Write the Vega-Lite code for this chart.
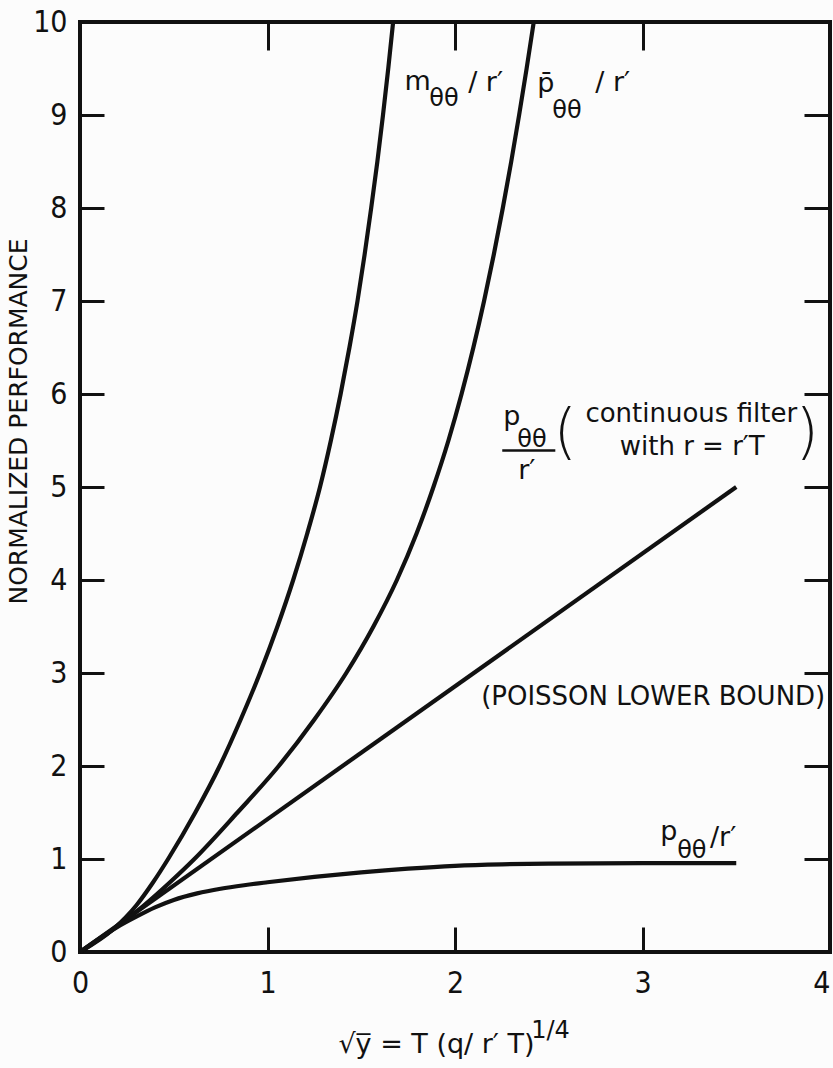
{
  "$schema": "https://vega.github.io/schema/vega-lite/v6.json",
  "width": 750,
  "height": 930,
  "autosize": {"type": "none"},
  "padding": {"left": 80, "top": 22, "right": 3, "bottom": 116},
  "background": "#fcfcfc",
  "config": {
    "view": {"stroke": "#111", "strokeWidth": 4},
    "axis": {"domain": false, "grid": false, "tickColor": "#111", "tickWidth": 3, "labelColor": "#111", "labelFont": "DejaVu Sans Condensed", "labelFontSize": 30, "labelFlush": false, "labelOverlap": false}
  },
  "datasets": {
    "curves": [
      {"series": "m", "x": 0, "y": 0}, {"series": "m", "x": 0.18, "y": 0.25}, {"series": "m", "x": 0.3, "y": 0.5}, {"series": "m", "x": 0.39, "y": 0.75}, {"series": "m", "x": 0.47, "y": 1.0}, {"series": "m", "x": 0.615, "y": 1.5}, {"series": "m", "x": 0.745, "y": 2.0}, {"series": "m", "x": 0.857, "y": 2.5}, {"series": "m", "x": 0.96, "y": 3.0}, {"series": "m", "x": 1.053, "y": 3.5}, {"series": "m", "x": 1.137, "y": 4.0}, {"series": "m", "x": 1.212, "y": 4.5}, {"series": "m", "x": 1.28, "y": 5.0}, {"series": "m", "x": 1.338, "y": 5.5}, {"series": "m", "x": 1.39, "y": 6.0}, {"series": "m", "x": 1.437, "y": 6.5}, {"series": "m", "x": 1.48, "y": 7.0}, {"series": "m", "x": 1.518, "y": 7.5}, {"series": "m", "x": 1.553, "y": 8.0}, {"series": "m", "x": 1.586, "y": 8.5}, {"series": "m", "x": 1.616, "y": 9.0}, {"series": "m", "x": 1.644, "y": 9.5}, {"series": "m", "x": 1.67, "y": 10.0},
      {"series": "pbar", "x": 0, "y": 0}, {"series": "pbar", "x": 0.18, "y": 0.25}, {"series": "pbar", "x": 0.34, "y": 0.5}, {"series": "pbar", "x": 0.48, "y": 0.75}, {"series": "pbar", "x": 0.61, "y": 1.0}, {"series": "pbar", "x": 0.84, "y": 1.5}, {"series": "pbar", "x": 1.06, "y": 2.0}, {"series": "pbar", "x": 1.25, "y": 2.5}, {"series": "pbar", "x": 1.42, "y": 3.0}, {"series": "pbar", "x": 1.565, "y": 3.5}, {"series": "pbar", "x": 1.69, "y": 4.0}, {"series": "pbar", "x": 1.795, "y": 4.5}, {"series": "pbar", "x": 1.885, "y": 5.0}, {"series": "pbar", "x": 1.965, "y": 5.5}, {"series": "pbar", "x": 2.035, "y": 6.0}, {"series": "pbar", "x": 2.098, "y": 6.5}, {"series": "pbar", "x": 2.155, "y": 7.0}, {"series": "pbar", "x": 2.207, "y": 7.5}, {"series": "pbar", "x": 2.255, "y": 8.0}, {"series": "pbar", "x": 2.3, "y": 8.5}, {"series": "pbar", "x": 2.342, "y": 9.0}, {"series": "pbar", "x": 2.382, "y": 9.5}, {"series": "pbar", "x": 2.42, "y": 10.0},
      {"series": "cont", "x": 0, "y": 0}, {"series": "cont", "x": 3.5, "y": 5.0},
      {"series": "p", "x": 0, "y": 0}, {"series": "p", "x": 0.1, "y": 0.14}, {"series": "p", "x": 0.2, "y": 0.27}, {"series": "p", "x": 0.3, "y": 0.38}, {"series": "p", "x": 0.4, "y": 0.48}, {"series": "p", "x": 0.5, "y": 0.56}, {"series": "p", "x": 0.625, "y": 0.63}, {"series": "p", "x": 0.75, "y": 0.68}, {"series": "p", "x": 0.875, "y": 0.718}, {"series": "p", "x": 1.0, "y": 0.75}, {"series": "p", "x": 1.25, "y": 0.808}, {"series": "p", "x": 1.5, "y": 0.857}, {"series": "p", "x": 1.75, "y": 0.897}, {"series": "p", "x": 2.0, "y": 0.927}, {"series": "p", "x": 2.25, "y": 0.943}, {"series": "p", "x": 2.5, "y": 0.951}, {"series": "p", "x": 3.0, "y": 0.955}, {"series": "p", "x": 3.5, "y": 0.955}
    ],
    "mainText": [
      {"x": 1.73, "y": 9.274, "t": "m"},
      {"x": 2.07, "y": 9.263, "t": "/ r′"},
      {"x": 2.439, "y": 9.242, "t": "p̄"},
      {"x": 2.748, "y": 9.263, "t": "/ r′"},
      {"x": 2.257, "y": 5.672, "t": "p"},
      {"x": 2.337, "y": 5.091, "t": "r′"},
      {"x": 3.094, "y": 1.199, "t": "p"},
      {"x": 3.36, "y": 1.145, "t": "/r′"},
      {"x": 1.378, "y": -1.081, "t": "√y̅ = T (q/ r′ T)"}
    ],
    "subText": [
      {"x": 1.863, "y": 9.102, "t": "θθ"},
      {"x": 2.519, "y": 8.973, "t": "θθ"},
      {"x": 2.332, "y": 5.425, "t": "θθ"},
      {"x": 3.185, "y": 1.016, "t": "θθ"},
      {"x": 2.406, "y": -0.93, "t": "1/4"}
    ],
    "centerText": [
      {"x": 3.26, "y": 5.694, "t": "continuous filter"},
      {"x": 3.265, "y": 5.339, "t": "with r = r′T"},
      {"x": 3.057, "y": 2.651, "t": "(POISSON LOWER BOUND)"}
    ],
    "parens": [
      {"x": 2.588, "y": 5.565, "t": "("},
      {"x": 3.878, "y": 5.565, "t": ")"}
    ],
    "bars": [
      {"x": 2.252, "x2": 2.535, "y": 5.392}
    ]
  },
  "layer": [
    {
      "data": {"name": "curves"},
      "mark": {"type": "line", "color": "#111", "strokeWidth": 4.2, "interpolate": "monotone"},
      "encoding": {
        "x": {"field": "x", "type": "quantitative", "scale": {"domain": [0, 4], "nice": false}, "axis": {"orient": "bottom", "values": [0, 1, 2, 3, 4], "tickSize": -25, "labelPadding": 41, "title": null, "labelAlign": {"condition": {"test": "datum.value == 4", "value": "right"}, "value": "center"}}},
        "y": {"field": "y", "type": "quantitative", "scale": {"domain": [0, 10], "nice": false}, "axis": {"orient": "left", "values": [0, 1, 2, 3, 4, 5, 6, 7, 8, 9, 10], "tickSize": -24, "labelPadding": 37, "title": "NORMALIZED PERFORMANCE", "titleFont": "DejaVu Sans", "titleFontSize": 25, "titleFontWeight": "normal", "titleColor": "#111", "titleX": -54, "titleY": 399, "titleAngle": -90, "titleBaseline": "alphabetic", "titleAlign": "center"}},
        "detail": {"field": "series", "type": "nominal"}
      }
    },
    {
      "data": {"name": "curves"},
      "mark": {"type": "point", "opacity": 0},
      "encoding": {
        "x": {"field": "x", "type": "quantitative", "axis": {"orient": "top", "values": [1, 2, 3], "tickSize": -28, "labels": false, "title": null}},
        "y": {"field": "y", "type": "quantitative", "axis": {"orient": "right", "values": [1, 2, 3, 4, 5, 6, 7, 8, 9], "tickSize": -26, "labels": false, "title": null}}
      }
    },
    {
      "data": {"name": "mainText"},
      "mark": {"type": "text", "font": "DejaVu Sans", "fontSize": 27, "color": "#111", "align": "left", "baseline": "alphabetic"},
      "encoding": {
        "x": {"field": "x", "type": "quantitative", "axis": null},
        "y": {"field": "y", "type": "quantitative", "axis": null},
        "text": {"field": "t"}
      }
    },
    {
      "data": {"name": "subText"},
      "mark": {"type": "text", "font": "DejaVu Sans", "fontSize": 24, "color": "#111", "align": "left", "baseline": "alphabetic"},
      "encoding": {
        "x": {"field": "x", "type": "quantitative", "axis": null},
        "y": {"field": "y", "type": "quantitative", "axis": null},
        "text": {"field": "t"}
      }
    },
    {
      "data": {"name": "centerText"},
      "mark": {"type": "text", "font": "DejaVu Sans", "fontSize": 26, "color": "#111", "align": "center", "baseline": "alphabetic"},
      "encoding": {
        "x": {"field": "x", "type": "quantitative", "axis": null},
        "y": {"field": "y", "type": "quantitative", "axis": null},
        "text": {"field": "t"}
      }
    },
    {
      "data": {"name": "parens"},
      "mark": {"type": "text", "font": "DejaVu Sans", "fontSize": 60, "fontWeight": 200, "color": "#111", "align": "center", "baseline": "middle"},
      "encoding": {
        "x": {"field": "x", "type": "quantitative", "axis": null},
        "y": {"field": "y", "type": "quantitative", "axis": null},
        "text": {"field": "t"}
      }
    },
    {
      "data": {"name": "bars"},
      "mark": {"type": "rule", "color": "#111", "strokeWidth": 2.5},
      "encoding": {
        "x": {"field": "x", "type": "quantitative", "axis": null},
        "x2": {"field": "x2"},
        "y": {"field": "y", "type": "quantitative", "axis": null}
      }
    }
  ],
  "resolve": {"axis": {"x": "independent", "y": "independent"}}
}
